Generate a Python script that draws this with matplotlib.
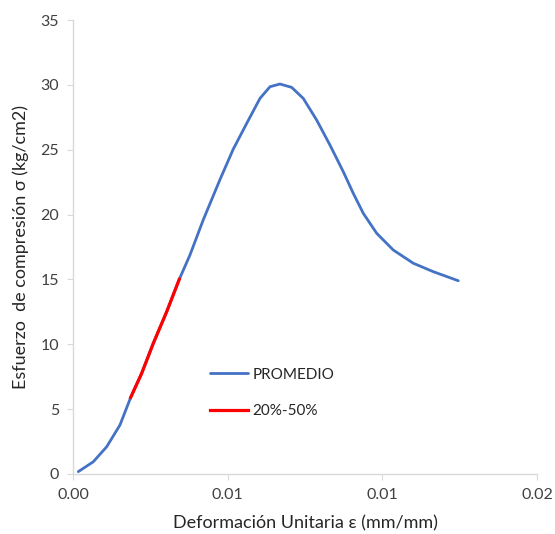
import matplotlib.pyplot as plt

plt.rcParams['font.family'] = ['Lato', 'DejaVu Sans']

# curva promedio esfuerzo-deformacion
deformacion = [0.000228, 0.000875, 0.001453, 0.002026, 0.002487, 0.002961, 0.003461,
               0.004039, 0.004582, 0.005043, 0.005616, 0.006336, 0.006909, 0.007487,
               0.008060, 0.008491, 0.008922, 0.009427, 0.009927, 0.010504, 0.011078,
               0.011651, 0.012082, 0.012513, 0.013091, 0.013806, 0.014668, 0.015530,
               0.016608]
esfuerzo = [0.18, 0.94, 2.10, 3.78, 5.90, 7.76, 10.07,
            12.51, 15.01, 16.89, 19.60, 22.70, 25.05, 27.03,
            28.96, 29.86, 30.07, 29.81, 28.96, 27.29, 25.36,
            23.31, 21.64, 20.10, 18.56, 17.27, 16.25, 15.60,
            14.90]

# tramo 20%-50% del esfuerzo maximo
deformacion_tramo = [0.002487, 0.002961, 0.003461, 0.004039, 0.004582]
esfuerzo_tramo = [5.90, 7.76, 10.07, 12.51, 15.01]

ticks_x = [0, 0.02 / 3, 0.04 / 3, 0.02]
etiquetas_x = ["0.00", "0.01", "0.01", "0.02"]

fig = plt.figure(figsize=(5.55, 5.34), dpi=100)
ax = fig.add_axes([0.1315, 0.1124, 0.836, 0.850])

ax.plot(deformacion, esfuerzo, color="#4472C4", lw=2.0, label="PROMEDIO",
        solid_joinstyle="round", solid_capstyle="round")
ax.plot(deformacion_tramo, esfuerzo_tramo, color="#FF0000", lw=2.3, label="20%-50%",
        solid_joinstyle="round")

ax.set_xlim(0, 0.02)
ax.set_ylim(0, 35)
ax.set_xticks(ticks_x)
ax.set_xticklabels(etiquetas_x)
ax.set_yticks(range(0, 36, 5))

for lado in ["top", "right"]:
    ax.spines[lado].set_visible(False)
for lado in ["left", "bottom"]:
    ax.spines[lado].set_color("#d9d9d9")
    ax.spines[lado].set_linewidth(1.0)
ax.tick_params(colors="#d9d9d9", labelcolor="#404040", labelsize=11.5, length=4, pad=6)

ax.set_xlabel("Deformación Unitaria ε (mm/mm)", fontsize=13, color="#262626", labelpad=10)
ax.set_ylabel("Esfuerzo  de compresión σ (kg/cm2)", fontsize=13, color="#262626", labelpad=8)

ax.legend(loc="upper left", bbox_to_anchor=(0.295, 0.234), frameon=False, fontsize=11,
          borderpad=0, borderaxespad=0, handlelength=2.5, handletextpad=0.3,
          labelspacing=1.45, labelcolor="#262626")

fig.savefig("out.png")
